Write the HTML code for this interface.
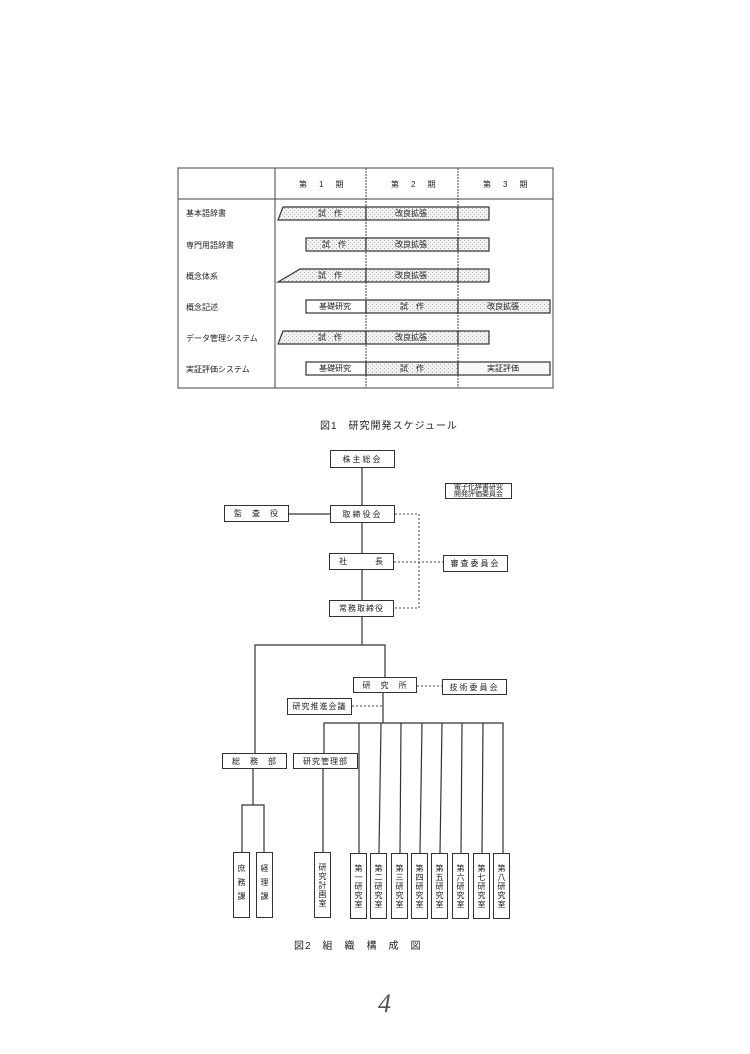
<!DOCTYPE html>
<html><head><meta charset="utf-8">
<style>
body{margin:0;background:#fff;}
#p{position:relative;width:750px;height:1054px;overflow:hidden;background:#fff;font-family:"Liberation Sans","Noto Sans CJK JP",sans-serif;color:#222;}
.b{position:absolute;box-sizing:border-box;border:1.5px solid #333;background:#fff;font-size:8px;display:flex;align-items:center;justify-content:center;letter-spacing:2px;white-space:nowrap;}
.v{writing-mode:vertical-rl;letter-spacing:1px;font-size:8px;}
.t{position:absolute;font-size:8px;white-space:nowrap;}
svg{position:absolute;left:0;top:0;}
</style></head><body><div id="p">
<svg width="750" height="1054">
<defs><pattern id="h" width="4" height="4" patternUnits="userSpaceOnUse"><rect width="4" height="4" fill="#f2f2f2"/><rect width="1" height="1" fill="#aaa"/><rect x="2" y="2" width="1" height="1" fill="#bbb"/></pattern></defs>
<g stroke="#444" fill="none" stroke-width="1">
<rect x="178" y="168" width="375" height="220"/>
<line x1="178" y1="199" x2="553" y2="199"/>
<line x1="275" y1="168" x2="275" y2="388"/>
<line x1="366" y1="168" x2="366" y2="388" stroke-dasharray="2 1"/>
<line x1="458" y1="168" x2="458" y2="388" stroke-dasharray="2 1"/>
</g>
<g stroke="#333" stroke-width="1.2" fill="url(#h)">
<polygon points="283,207 366,207 366,220 278,220"/><rect x="366" y="207" width="92" height="13"/><rect x="458" y="207" width="31" height="13"/>
<rect x="306" y="238" width="60" height="13"/><rect x="366" y="238" width="92" height="13"/><rect x="458" y="238" width="31" height="13"/>
<polygon points="300,269 366,269 366,282 278,282"/><rect x="366" y="269" width="92" height="13"/><rect x="458" y="269" width="31" height="13"/>
<rect x="306" y="300" width="60" height="13" fill="#fff"/><rect x="366" y="300" width="92" height="13"/><rect x="458" y="300" width="92" height="13"/>
<polygon points="283,331 366,331 366,344 278,344"/><rect x="366" y="331" width="92" height="13"/><rect x="458" y="331" width="31" height="13"/>
<rect x="306" y="362" width="60" height="13" fill="#fff"/><rect x="366" y="362" width="92" height="13"/><rect x="458" y="362" width="92" height="13" fill="#f8f8f8"/>
</g>
<g stroke="#333" stroke-width="1.2" fill="none">
<line x1="362" y1="468" x2="362" y2="505"/>
<line x1="289" y1="514" x2="330" y2="514"/>
<line x1="362" y1="523" x2="362" y2="553"/>
<line x1="362" y1="570" x2="362" y2="600"/>
<line x1="362" y1="617" x2="362" y2="645"/>
<polyline points="255,753 255,645 385,645 385,677"/>
<line x1="383" y1="693" x2="383" y2="723"/>
<polyline points="324,753 324,723 503,723 503,853"/>
<line x1="359" y1="723" x2="359" y2="853"/>
<line x1="381" y1="723" x2="379" y2="853"/>
<line x1="401" y1="723" x2="400" y2="853"/>
<line x1="422" y1="723" x2="420" y2="853"/>
<line x1="442" y1="723" x2="440" y2="853"/>
<line x1="462" y1="723" x2="461" y2="853"/>
<line x1="483" y1="723" x2="482" y2="853"/>
<line x1="253" y1="769" x2="253" y2="805"/>
<polyline points="242,852 242,805 264,805 264,852"/>
<line x1="323" y1="769" x2="323" y2="852"/>
</g>
<g stroke="#444" stroke-width="1" stroke-dasharray="2 2" fill="none">
<polyline points="395,514 419,514 419,608 394,608"/>
<line x1="394" y1="562" x2="443" y2="562"/>
<line x1="417" y1="686" x2="442" y2="686"/>
<line x1="352" y1="706" x2="383" y2="706"/>
</g>
<text x="378" y="1012" font-size="26" font-family="Liberation Serif,serif" font-style="italic" fill="#555">4</text>
</svg>
<div class="t" style="left:299px;top:179px;letter-spacing:2px">第　1　期</div>
<div class="t" style="left:391px;top:179px;letter-spacing:2px">第　2　期</div>
<div class="t" style="left:483px;top:179px;letter-spacing:2px">第　3　期</div>
<div class="t" style="left:186px;top:208px">基本語辞書</div>
<div class="t" style="left:186px;top:240px">専門用語辞書</div>
<div class="t" style="left:186px;top:271px">概念体系</div>
<div class="t" style="left:186px;top:302px">概念記述</div>
<div class="t" style="left:186px;top:333px">データ管理システム</div>
<div class="t" style="left:186px;top:364px">実証評価システム</div>
<div class="t" style="left:318px;top:208px">試　作</div>
<div class="t" style="left:395px;top:208px">改良拡張</div>
<div class="t" style="left:322px;top:239px">試　作</div>
<div class="t" style="left:395px;top:239px">改良拡張</div>
<div class="t" style="left:318px;top:270px">試　作</div>
<div class="t" style="left:395px;top:270px">改良拡張</div>
<div class="t" style="left:319px;top:301px">基礎研究</div>
<div class="t" style="left:400px;top:301px">試　作</div>
<div class="t" style="left:487px;top:301px">改良拡張</div>
<div class="t" style="left:318px;top:332px">試　作</div>
<div class="t" style="left:395px;top:332px">改良拡張</div>
<div class="t" style="left:319px;top:363px">基礎研究</div>
<div class="t" style="left:400px;top:363px">試　作</div>
<div class="t" style="left:487px;top:363px">実証評価</div>
<div class="t" style="left:320px;top:417px;font-size:10px;letter-spacing:1px">図1　研究開発スケジュール</div>

<div class="b" style="left:330px;top:450px;width:65px;height:18px">株主総会</div>
<div class="b" style="left:445px;top:483px;width:67px;height:16px;font-size:7px;letter-spacing:0;line-height:7px;flex-direction:column">電子化辞書研究<br>開発評価委員会</div>
<div class="b" style="left:224px;top:505px;width:65px;height:17px;letter-spacing:1px">監　査　役</div>
<div class="b" style="left:330px;top:505px;width:65px;height:18px">取締役会</div>
<div class="b" style="left:329px;top:553px;width:65px;height:17px;letter-spacing:1px">社　　　長</div>
<div class="b" style="left:443px;top:555px;width:65px;height:17px">審査委員会</div>
<div class="b" style="left:329px;top:600px;width:65px;height:17px;letter-spacing:1px">常務取締役</div>
<div class="b" style="left:353px;top:677px;width:64px;height:16px;letter-spacing:1px">研　究　所</div>
<div class="b" style="left:442px;top:679px;width:65px;height:16px">技術委員会</div>
<div class="b" style="left:287px;top:698px;width:65px;height:17px;letter-spacing:1px">研究推進会議</div>
<div class="b" style="left:222px;top:753px;width:65px;height:16px;letter-spacing:1px">総　務　部</div>
<div class="b" style="left:293px;top:753px;width:65px;height:16px;letter-spacing:1px">研究管理部</div>
<div class="b v" style="left:233px;top:852px;width:17px;height:66px;letter-spacing:6px">庶務課</div>
<div class="b v" style="left:256px;top:852px;width:17px;height:66px;letter-spacing:6px">経理課</div>
<div class="b v" style="left:314px;top:852px;width:17px;height:66px">研究計画室</div>
<div class="b v" style="left:350px;top:853px;width:17px;height:66px">第一研究室</div>
<div class="b v" style="left:370px;top:853px;width:17px;height:66px">第二研究室</div>
<div class="b v" style="left:391px;top:853px;width:17px;height:66px">第三研究室</div>
<div class="b v" style="left:411px;top:853px;width:17px;height:66px">第四研究室</div>
<div class="b v" style="left:431px;top:853px;width:17px;height:66px">第五研究室</div>
<div class="b v" style="left:452px;top:853px;width:17px;height:66px">第六研究室</div>
<div class="b v" style="left:473px;top:853px;width:17px;height:66px">第七研究室</div>
<div class="b v" style="left:493px;top:853px;width:17px;height:66px">第八研究室</div>
<div class="t" style="left:294px;top:937px;font-size:10px;letter-spacing:1px">図2　組　織　構　成　図</div>
</div></body></html>
